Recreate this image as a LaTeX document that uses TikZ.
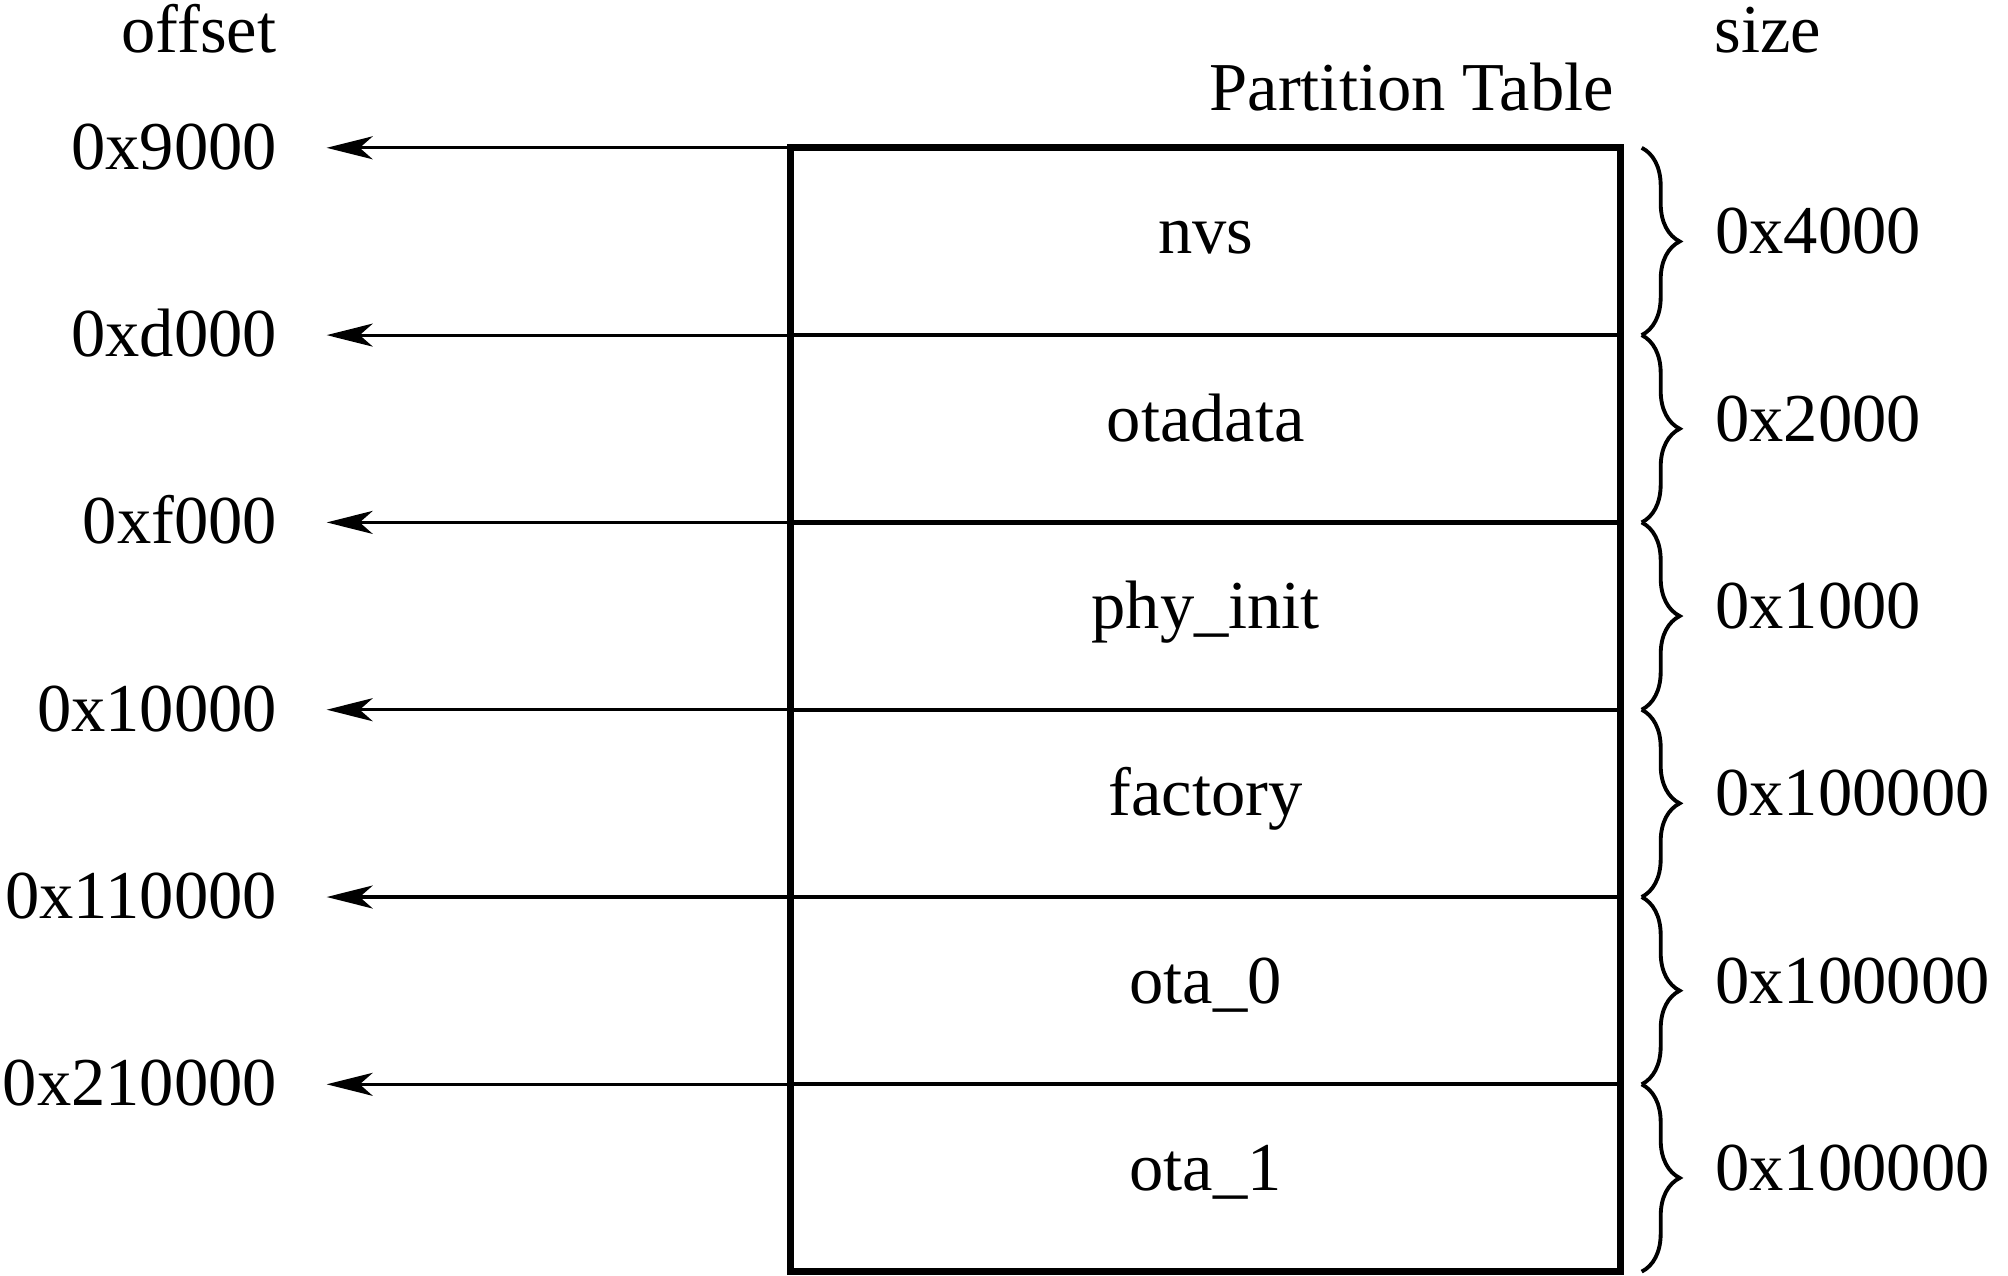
\documentclass[tikz,border=0pt]{standalone}
\usepackage{fontspec}
\setmainfont{Liberation Serif}
\usetikzlibrary{chains,positioning,arrows.meta,decorations.pathreplacing}

\begin{document}
\begin{tikzpicture}[
  node distance = 0pt,
  start chain = going below,
  every node/.style = {font=\fontsize{19.5}{23}\selectfont,inner sep=0pt},
  part/.style = {draw,line width=1.2pt,minimum width=83mm,minimum height=18.73mm,
        outer sep=0pt,text height=7.1pt,text depth=0pt,on chain},
  offarrow/.style = {line width=0.9pt,-{Stealth[length=4.6mm,width=2.3mm,inset=1.3mm]}},
  sizebrace/.style = {line width=1.1pt,decorate,decoration={brace,amplitude=3.8mm}}]
 \useasboundingbox (0,0) rectangle (20.08,-12.75);
 \node[part,anchor=north west] (nvs) at (7.907,-1.478) {nvs};
 \node[part] (otadata) {otadata};
 \node[part] (phy)     {phy\_init};
 \node[part] (factory) {factory};
 \node[part] (ota0)    {ota\_0};
 \node[part] (ota1)    {ota\_1};
 \draw[line width=1.9pt] (nvs.north west) rectangle (ota1.south east);
 % headings
 \node[anchor=base east] (offhead) at (2.77,-0.52) {offset};
 \node[anchor=base west] (sizehead) at (17.14,-0.52) {size};
 \node[anchor=base east] (tablehead) at ([xshift=-0.6mm]nvs.north east |- 0,-1.10) {Partition Table};
 % offsets
 \coordinate (t0) at ([xshift=-46.4mm]nvs.north west);
 \coordinate (t1) at ([xshift=-46.4mm]otadata.north west);
 \coordinate (t2) at ([xshift=-46.4mm]phy.north west);
 \coordinate (t3) at ([xshift=-46.4mm]factory.north west);
 \coordinate (t4) at ([xshift=-46.4mm]ota0.north west);
 \coordinate (t5) at ([xshift=-46.4mm]ota1.north west);
 \draw[offarrow] (nvs.north west) -- (t0);
 \draw[offarrow] (otadata.north west) -- (t1);
 \draw[offarrow] (phy.north west) -- (t2);
 \draw[offarrow] (factory.north west) -- (t3);
 \draw[offarrow] (ota0.north west) -- (t4);
 \draw[offarrow] (ota1.north west) -- (t5);
 \node[anchor=base east] (o0) at ([xshift=-4.9mm,yshift=-2.15mm]t0) {0x9000};
 \node[anchor=base east] (o1) at ([xshift=-4.9mm,yshift=-2.15mm]t1) {0xd000};
 \node[anchor=base east] (o2) at ([xshift=-4.9mm,yshift=-2.15mm]t2) {0xf000};
 \node[anchor=base east] (o3) at ([xshift=-4.9mm,yshift=-2.15mm]t3) {0x10000};
 \node[anchor=base east] (o4) at ([xshift=-4.9mm,yshift=-2.15mm]t4) {0x110000};
 \node[anchor=base east] (o5) at ([xshift=-4.9mm,yshift=-2.15mm]t5) {0x210000};
 % sizes
 \draw[sizebrace] ([xshift=2.1mm]nvs.north east) -- ([xshift=2.1mm]nvs.south east);
 \draw[sizebrace] ([xshift=2.1mm]otadata.north east) -- ([xshift=2.1mm]otadata.south east);
 \draw[sizebrace] ([xshift=2.1mm]phy.north east) -- ([xshift=2.1mm]phy.south east);
 \draw[sizebrace] ([xshift=2.1mm]factory.north east) -- ([xshift=2.1mm]factory.south east);
 \draw[sizebrace] ([xshift=2.1mm]ota0.north east) -- ([xshift=2.1mm]ota0.south east);
 \draw[sizebrace] ([xshift=2.1mm]ota1.north east) -- ([xshift=2.1mm]ota1.south east);
 \node[anchor=base west] (s0) at ([xshift=9.4mm,yshift=-1.25mm]nvs.east) {0x4000};
 \node[anchor=base west] (s1) at ([xshift=9.4mm,yshift=-1.25mm]otadata.east) {0x2000};
 \node[anchor=base west] (s2) at ([xshift=9.4mm,yshift=-1.25mm]phy.east) {0x1000};
 \node[anchor=base west] (s3) at ([xshift=9.4mm,yshift=-1.25mm]factory.east) {0x100000};
 \node[anchor=base west] (s4) at ([xshift=9.4mm,yshift=-1.25mm]ota0.east) {0x100000};
 \node[anchor=base west] (s5) at ([xshift=9.4mm,yshift=-1.25mm]ota1.east) {0x100000};
\end{tikzpicture}
\end{document}
